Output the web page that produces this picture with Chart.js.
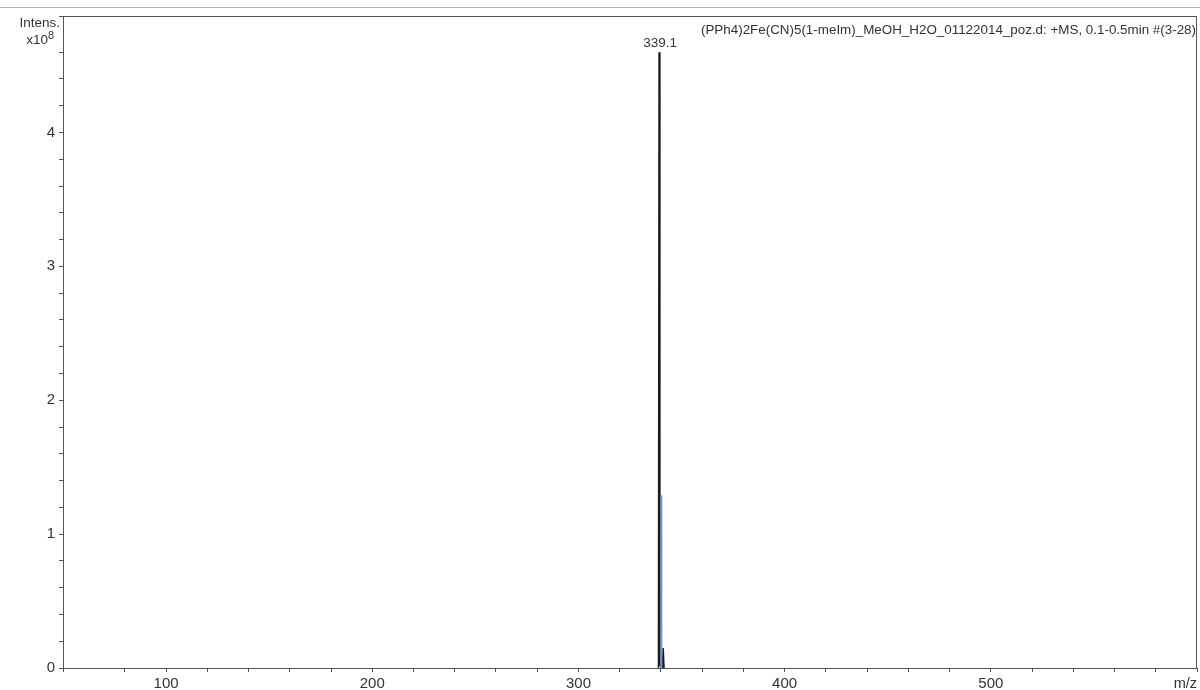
<!DOCTYPE html>
<html>
<head>
<meta charset="utf-8">
<script src="https://cdn.jsdelivr.net/npm/chart.js@4.4.1/dist/chart.umd.min.js"></script>
<style>
  body { margin: 0; background: #fff; }
  #wrap { width: 1200px; height: 690px; position: relative; }
</style>
</head>
<body>
<div id="wrap"><canvas id="msChart" width="1200" height="690"></canvas></div>
<script>
// spectrum data (intensity in units of 1e8)
var mzProfile = [338.8, 339.1, 339.5, 340.7, 341.1, 341.5];
var intensProfile = [0, 4.60, 0.02, 0, 0.15, 0];
var mzStick = [340.2];
var intensStick = [1.29];
var peakLabels = [{ mz: 339.1, intens: 4.60, text: "339.1" }];
var xMajor = [100, 200, 300, 400, 500];
var yMajor = [0, 1, 2, 3, 4];
var title = "(PPh4)2Fe(CN)5(1-meIm)_MeOH_H2O_01122014_poz.d: +MS, 0.1-0.5min #(3-28)";

var profilePts = mzProfile.map(function(m, i) { return { x: m, y: intensProfile[i] }; });
var stickPts = [];
mzStick.forEach(function(m, i) {
    stickPts.push({ x: m, y: 0 }, { x: m, y: intensStick[i] }, { x: NaN, y: NaN });
});

var decorations = {
    id: 'decorations',
    afterDraw: function(chart) {
        var ctx = chart.ctx, a = chart.chartArea;
        var xs = chart.scales.x, ys = chart.scales.y;
        ctx.save();
        // page header line
        ctx.strokeStyle = '#b0b0b0';
        ctx.lineWidth = 1;
        ctx.beginPath(); ctx.moveTo(0, 7.5); ctx.lineTo(1200, 7.5); ctx.stroke();
        // frame
        ctx.strokeStyle = '#555';
        ctx.strokeRect(a.left + 0.5, a.top + 0.5, a.right - a.left - 1, a.bottom - a.top);
        ctx.fillStyle = '#333';
        ctx.font = '13.5px "Liberation Sans", Arial, sans-serif';
        ctx.textAlign = 'right';
        ctx.textBaseline = 'alphabetic';
        ctx.fillText('Intens.', 60, 27);
        ctx.fillText('x10', 48, 44);
        ctx.font = '11px "Liberation Sans", Arial, sans-serif';
        ctx.textAlign = 'left';
        ctx.fillText('8', 48, 39);
        ctx.font = '13.4px "Liberation Sans", Arial, sans-serif';
        ctx.textAlign = 'right';
        ctx.fillText(title, 1196, 34);
        ctx.font = '14.5px "Liberation Sans", Arial, sans-serif';
        ctx.fillText('m/z', 1197, 688);
        // peak labels
        ctx.textAlign = 'center';
        ctx.font = '13.5px "Liberation Sans", Arial, sans-serif';
        peakLabels.forEach(function(p) {
            ctx.fillText(p.text, xs.getPixelForValue(p.mz) + 1, ys.getPixelForValue(p.intens) - 5);
        });
        ctx.restore();
    }
};

var ctx = document.getElementById('msChart').getContext('2d');
var msChart = new Chart(ctx, {
    type: 'scatter',
    data: {
        datasets: [{
            label: 'stick',
            data: stickPts,
            showLine: true,
            spanGaps: false,
            borderColor: '#6f93c9',
            borderWidth: 2,
            pointRadius: 0
        }, {
            label: 'profile',
            data: profilePts,
            showLine: true,
            borderColor: '#1a1a1a',
            borderWidth: 1.5,
            pointRadius: 0,
            tension: 0
        }]
    },
    options: {
        responsive: false,
        animation: false,
        devicePixelRatio: 1,
        layout: { padding: { top: 16, right: 2, left: 0, bottom: 0 } },
        plugins: { legend: { display: false }, tooltip: { enabled: false } },
        scales: {
            x: {
                type: 'linear',
                min: 50, max: 600,
                afterFit: function(s) { s.height = 22; },
                border: { display: true, color: '#555', width: 1 },
                grid: { drawOnChartArea: false, drawTicks: true, tickLength: 4, color: '#555' },
                ticks: {
                    stepSize: 20,
                    autoSkip: false,
                    maxRotation: 0,
                    padding: 3,
                    color: '#333',
                    font: { family: '"Liberation Sans", Arial, sans-serif', size: 15 },
                    callback: function(v) { return xMajor.indexOf(v) >= 0 ? String(v) : ''; }
                }
            },
            y: {
                type: 'linear',
                min: 0, max: 4.87,
                afterFit: function(s) { s.width = 63; },
                border: { display: true, color: '#555', width: 1 },
                grid: { drawOnChartArea: false, drawTicks: true, tickLength: 4, color: '#555' },
                ticks: {
                    stepSize: 0.2,
                    autoSkip: false,
                    padding: 4,
                    color: '#333',
                    font: { family: '"Liberation Sans", Arial, sans-serif', size: 15 },
                    callback: function(v) {
                        var r = Math.round(v * 10) / 10;
                        return yMajor.indexOf(r) >= 0 ? String(r) : '';
                    }
                }
            }
        }
    },
    plugins: [decorations]
});
</script>
</body>
</html>
